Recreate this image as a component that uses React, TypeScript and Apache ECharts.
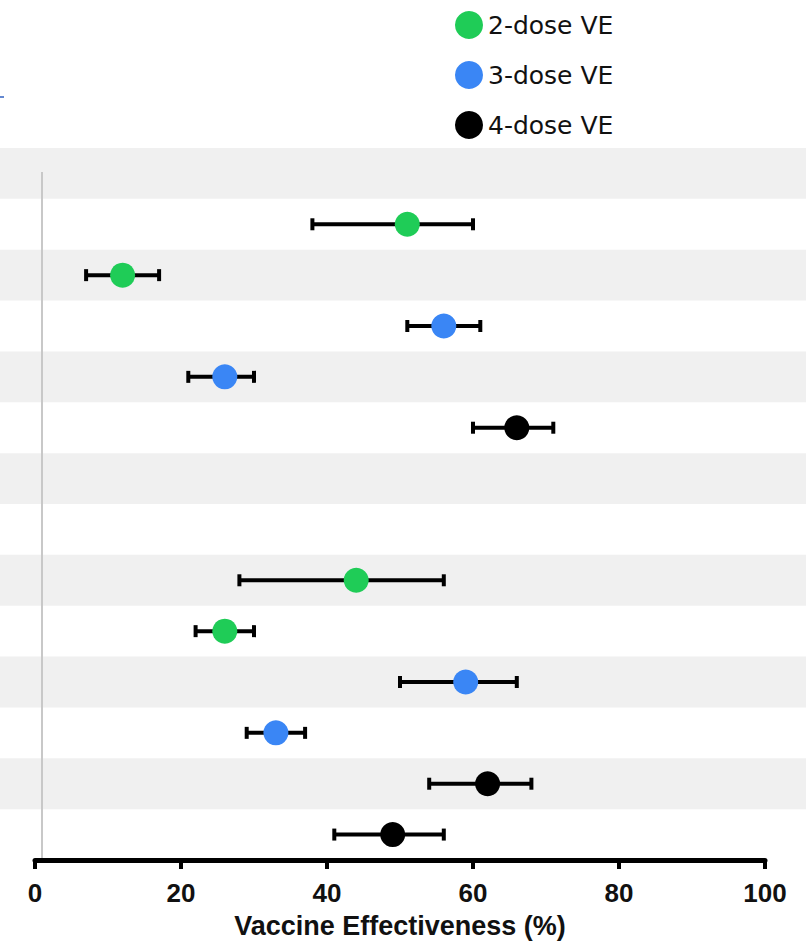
import React, { useEffect, useRef } from "react";
import * as echarts from "echarts";

// 14 rows, top to bottom
const rows = ["r1", "r2", "r3", "r4", "r5", "r6", "r7", "r8", "r9", "r10", "r11", "r12", "r13", "r14"];
const stripeRows = [0, 2, 4, 6, 8, 10, 12];

const seriesNames = ["2-dose VE", "3-dose VE", "4-dose VE"];
const seriesColors = ["#1fcc57", "#3a86f5", "#000000"];

// [row index, VE, lower CI, upper CI]
const dose2 = [
  [1, 51, 38, 60],
  [2, 12, 7, 17],
  [8, 44, 28, 56],
  [9, 26, 22, 30],
];
const dose3 = [
  [3, 56, 51, 61],
  [4, 26, 21, 30],
  [10, 59, 50, 66],
  [11, 33, 29, 37],
];
const dose4 = [
  [5, 66, 60, 71],
  [12, 62, 54, 68],
  [13, 49, 41, 56],
];

const xTicks = { min: 0, max: 100, interval: 20 };
const xTitle = "Vaccine Effectiveness (%)";

export default function App() {
  const ref = useRef<HTMLDivElement>(null);
  useEffect(() => {
    if (!ref.current) return;
    const chart = echarts.init(ref.current, null, { renderer: "svg" });
    const groups = [dose2, dose3, dose4];
    const allCI = groups.flat().map((d) => [d[2], d[3], d[0]]);

    const option: any = {
      animation: false,
      backgroundColor: "#ffffff",
      grid: { left: 35, right: 41, top: 148, bottom: 85, containLabel: false },
      legend: {
        orient: "vertical",
        left: 450,
        top: 6,
        itemWidth: 28,
        itemHeight: 28,
        itemGap: 22,
        icon: "circle",
        data: seriesNames,
        textStyle: { fontSize: 25, color: "#111", fontFamily: "DejaVu Sans" },
      },
      xAxis: {
        type: "value",
        min: xTicks.min,
        max: xTicks.max,
        interval: xTicks.interval,
        name: xTitle,
        nameLocation: "middle",
        nameGap: 52,
        nameTextStyle: { fontSize: 27, fontWeight: "bold", color: "#111", fontFamily: "Liberation Sans" },
        axisLine: { show: true, lineStyle: { color: "#000", width: 5 } },
        axisTick: { show: true, length: 9, lineStyle: { color: "#000", width: 4 } },
        axisLabel: { fontSize: 26, fontWeight: "bold", color: "#111", margin: 20, fontFamily: "Liberation Sans" },
        splitLine: { show: false },
      },
      yAxis: {
        type: "category",
        data: rows,
        inverse: true,
        show: false,
      },
      graphic: [
        { type: "line", z: 1, shape: { x1: 42, y1: 172, x2: 42, y2: 858 }, style: { stroke: "#c8c8c8", lineWidth: 2 } },
        { type: "line", z: 1, shape: { x1: 0, y1: 97, x2: 4, y2: 97 }, style: { stroke: "#3060c0", lineWidth: 1.5 } },
      ],
      series: [
        {
          type: "custom",
          z: 0,
          clip: false,
          silent: true,
          encode: { x: 0, y: 1 },
          data: stripeRows.map((r) => [0, r]),
          renderItem: (params: any, api: any) => {
            const c = api.coord([0, api.value(1)]);
            const h = api.size([0, 1])[1];
            return { type: "rect", shape: { x: 0, y: c[1] - h / 2, width: 806, height: h }, style: { fill: "#f0f0f0" } };
          },
        },
        {
          type: "custom",
          z: 3,
          clip: false,
          silent: true,
          encode: { x: [0, 1], y: 2 },
          data: allCI,
          renderItem: (params: any, api: any) => {
            const p1 = api.coord([api.value(0), api.value(2)]);
            const p2 = api.coord([api.value(1), api.value(2)]);
            const ch = 12;
            const cw = 4;
            return {
              type: "group",
              children: [
                { type: "line", shape: { x1: p1[0], y1: p1[1], x2: p2[0], y2: p2[1] }, style: { stroke: "#000", lineWidth: 4 } },
                { type: "rect", shape: { x: p1[0] - cw / 2, y: p1[1] - ch / 2, width: cw, height: ch }, style: { fill: "#000" } },
                { type: "rect", shape: { x: p2[0] - cw / 2, y: p2[1] - ch / 2, width: cw, height: ch }, style: { fill: "#000" } },
              ],
            };
          },
        },
        ...groups.map((g, i) => ({
          name: seriesNames[i],
          type: "scatter",
          z: 4,
          symbol: "circle",
          symbolSize: 25,
          itemStyle: { color: seriesColors[i], opacity: 1 },
          data: g.map((d) => [d[1], d[0]]),
        })),
      ],
    };
    chart.setOption(option);
    return () => chart.dispose();
  }, []);
  return <div ref={ref} style={{ width: 806, height: 945, position: "absolute", left: 0, top: 0 }} />;
}
